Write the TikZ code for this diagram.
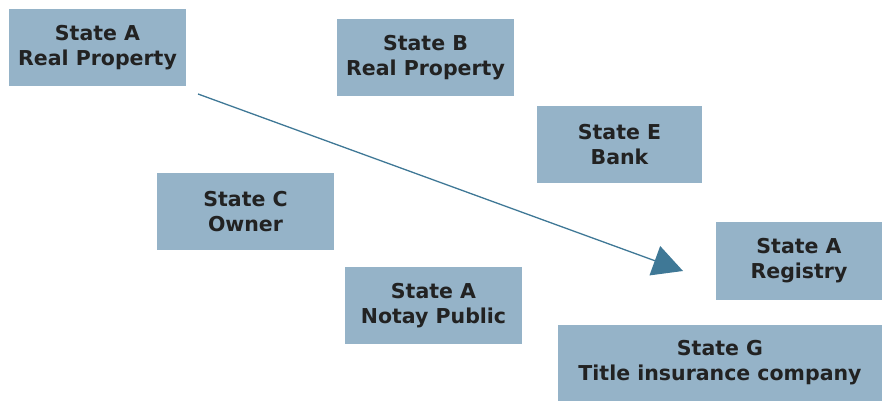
\documentclass[tikz,border=0pt]{standalone}
\usepackage{fontspec}
\setmainfont{DejaVu Sans}
\usepackage{tikz}
\usetikzlibrary{arrows.meta}
\definecolor{boxfill}{HTML}{95B3C8}
\definecolor{arrowblue}{HTML}{3F7896}
\definecolor{textgray}{HTML}{222222}

\begin{document}
\begin{tikzpicture}
  [x=1pt,y=-1pt, box_style/.style={fill=boxfill,text=textgray,font=\bfseries\fontsize{20.5}{25}\selectfont,align=center,inner sep=0pt,minimum height=77pt},edge_style/.style={draw=arrowblue,line width=1.3pt,-{Triangle[length=30pt,width=31pt]}}]
  \useasboundingbox (0,0) rectangle (882,401);
  \node[box_style,minimum width=177pt] (sa) at (97.5,47.5) {State A\\Real Property};
  \node[box_style,minimum width=177pt] (sb) at (425.5,57.5) {State B\\Real Property};
  \node[box_style,minimum width=165pt] (se) at (619.5,144.5) {State E\\Bank};
  \node[box_style,minimum width=177pt] (sc) at (245.5,211.5) {State C\\Owner};
  \node[box_style,minimum width=166pt,minimum height=78pt] (reg) at (799,261) {State A\\Registry};
  \node[box_style,minimum width=177pt] (np) at (433.5,305.5) {State A\\Notay Public};
  \node[box_style,minimum width=324pt,minimum height=76pt] (sg) at (720,363) {State G\\Title insurance company};
  \coordinate (from) at (198,94);
  \coordinate (to) at (683,271);
  \draw[edge_style] (from) -- (to);
\end{tikzpicture}
\end{document}
